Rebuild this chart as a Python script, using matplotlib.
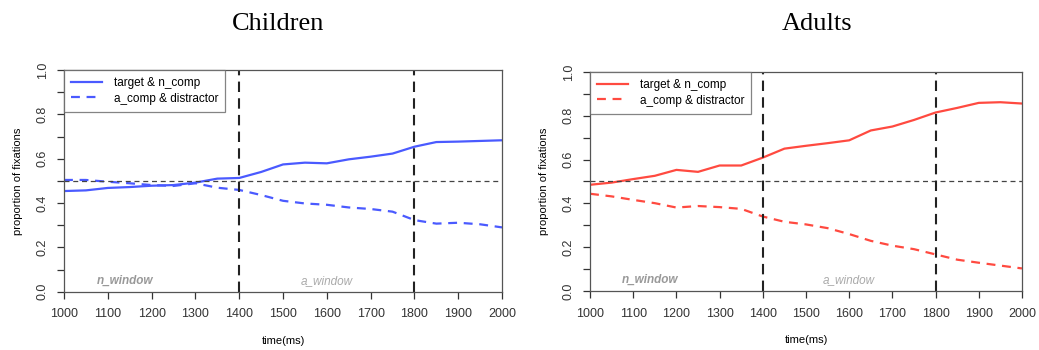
import matplotlib
matplotlib.use('Agg')
import matplotlib.pyplot as plt
import numpy as np

plt.rcParams['font.family'] = 'Liberation Sans'
plt.rcParams['font.size'] = 8.5

# data (every 50 ms)
time_ms = list(range(1000, 2001, 50))

children_target = [0.454, 0.457, 0.468, 0.472, 0.478, 0.481, 0.492, 0.510, 0.513, 0.540,
                   0.574, 0.582, 0.579, 0.597, 0.609, 0.623, 0.654, 0.675, 0.677, 0.680, 0.683]
children_distr = [0.504, 0.504, 0.496, 0.489, 0.481, 0.477, 0.489, 0.469, 0.459, 0.436,
                  0.410, 0.398, 0.392, 0.380, 0.373, 0.361, 0.323, 0.307, 0.311, 0.304, 0.290]

adults_target = [0.485, 0.495, 0.511, 0.526, 0.553, 0.544, 0.573, 0.573, 0.609, 0.650,
                 0.663, 0.675, 0.688, 0.733, 0.751, 0.781, 0.815, 0.836, 0.859, 0.862, 0.856]
adults_distr = [0.444, 0.432, 0.416, 0.401, 0.381, 0.388, 0.383, 0.375, 0.340, 0.316,
                0.304, 0.287, 0.260, 0.229, 0.207, 0.191, 0.167, 0.143, 0.129, 0.116, 0.103]

window_bounds = [1400, 1800]
legend_labels = ['target & n_comp', 'a_comp & distractor']

fig = plt.figure(figsize=(10.39, 3.5), dpi=100)

panels = [
    ('Children', [0.0616, 0.1666, 0.4216, 0.6334], 0.2676, children_target, children_distr, '#4a5aff'),
    ('Adults', [0.5679, 0.1686, 0.4157, 0.6257], 0.786, adults_target, adults_distr, '#ff4a40'),
]

for title, rect, tx, tgt, dst, color in panels:
    ax = fig.add_axes(rect)
    ax.plot(time_ms, tgt, color=color, lw=1.6, label=legend_labels[0])
    ax.plot(time_ms, dst, color=color, lw=1.6, ls=(0, (4, 3)), label=legend_labels[1])

    ax.axhline(0.5, color='#444', lw=0.9, ls=(0, (4, 3)))
    for xb in window_bounds:
        ax.axvline(xb, color='#222', lw=1.5, ls=(0, (5, 3)))

    ax.text(1140, 0.05, 'n_window', ha='center', va='center', fontsize=8.5,
            style='italic', fontweight='bold', color='#999999')
    ax.text(1600, 0.05, 'a_window', ha='center', va='center', fontsize=8.5,
            style='italic', color='#aaaaaa')

    ax.set_xlim(1000, 2000)
    ax.set_ylim(0, 1)
    ax.set_xticks(np.arange(1000, 2001, 100))
    ax.set_yticks(np.arange(0, 1.01, 0.1))
    ax.set_yticklabels([f'{v:.1f}' if i % 2 == 0 else '' for i, v in
                        enumerate(np.arange(0, 1.01, 0.1))],
                       rotation=90, va='center')
    ax.tick_params(direction='out', length=5, width=0.9, colors='#333',
                   labelsize=9)
    ax.tick_params(axis='x', pad=7)
    ax.tick_params(axis='y', pad=6)
    for sp in ax.spines.values():
        sp.set_color('#555')
        sp.set_linewidth(0.9)

    ax.set_xlabel('time(ms)', fontsize=8, labelpad=11)
    ax.set_ylabel('proportion of fixations', fontsize=8, labelpad=10)

    leg = ax.legend(loc='upper left', fontsize=8.5, frameon=True, fancybox=False,
                    borderaxespad=0, handlelength=2.6, borderpad=0.6,
                    labelspacing=0.3, handletextpad=1.0)
    leg.get_frame().set_edgecolor('#666')
    leg.get_frame().set_linewidth(0.9)

    fig.text(tx, 0.93, title, ha='center', va='center', fontsize=19,
             family='Liberation Serif')

fig.savefig('out.png', dpi=100)
